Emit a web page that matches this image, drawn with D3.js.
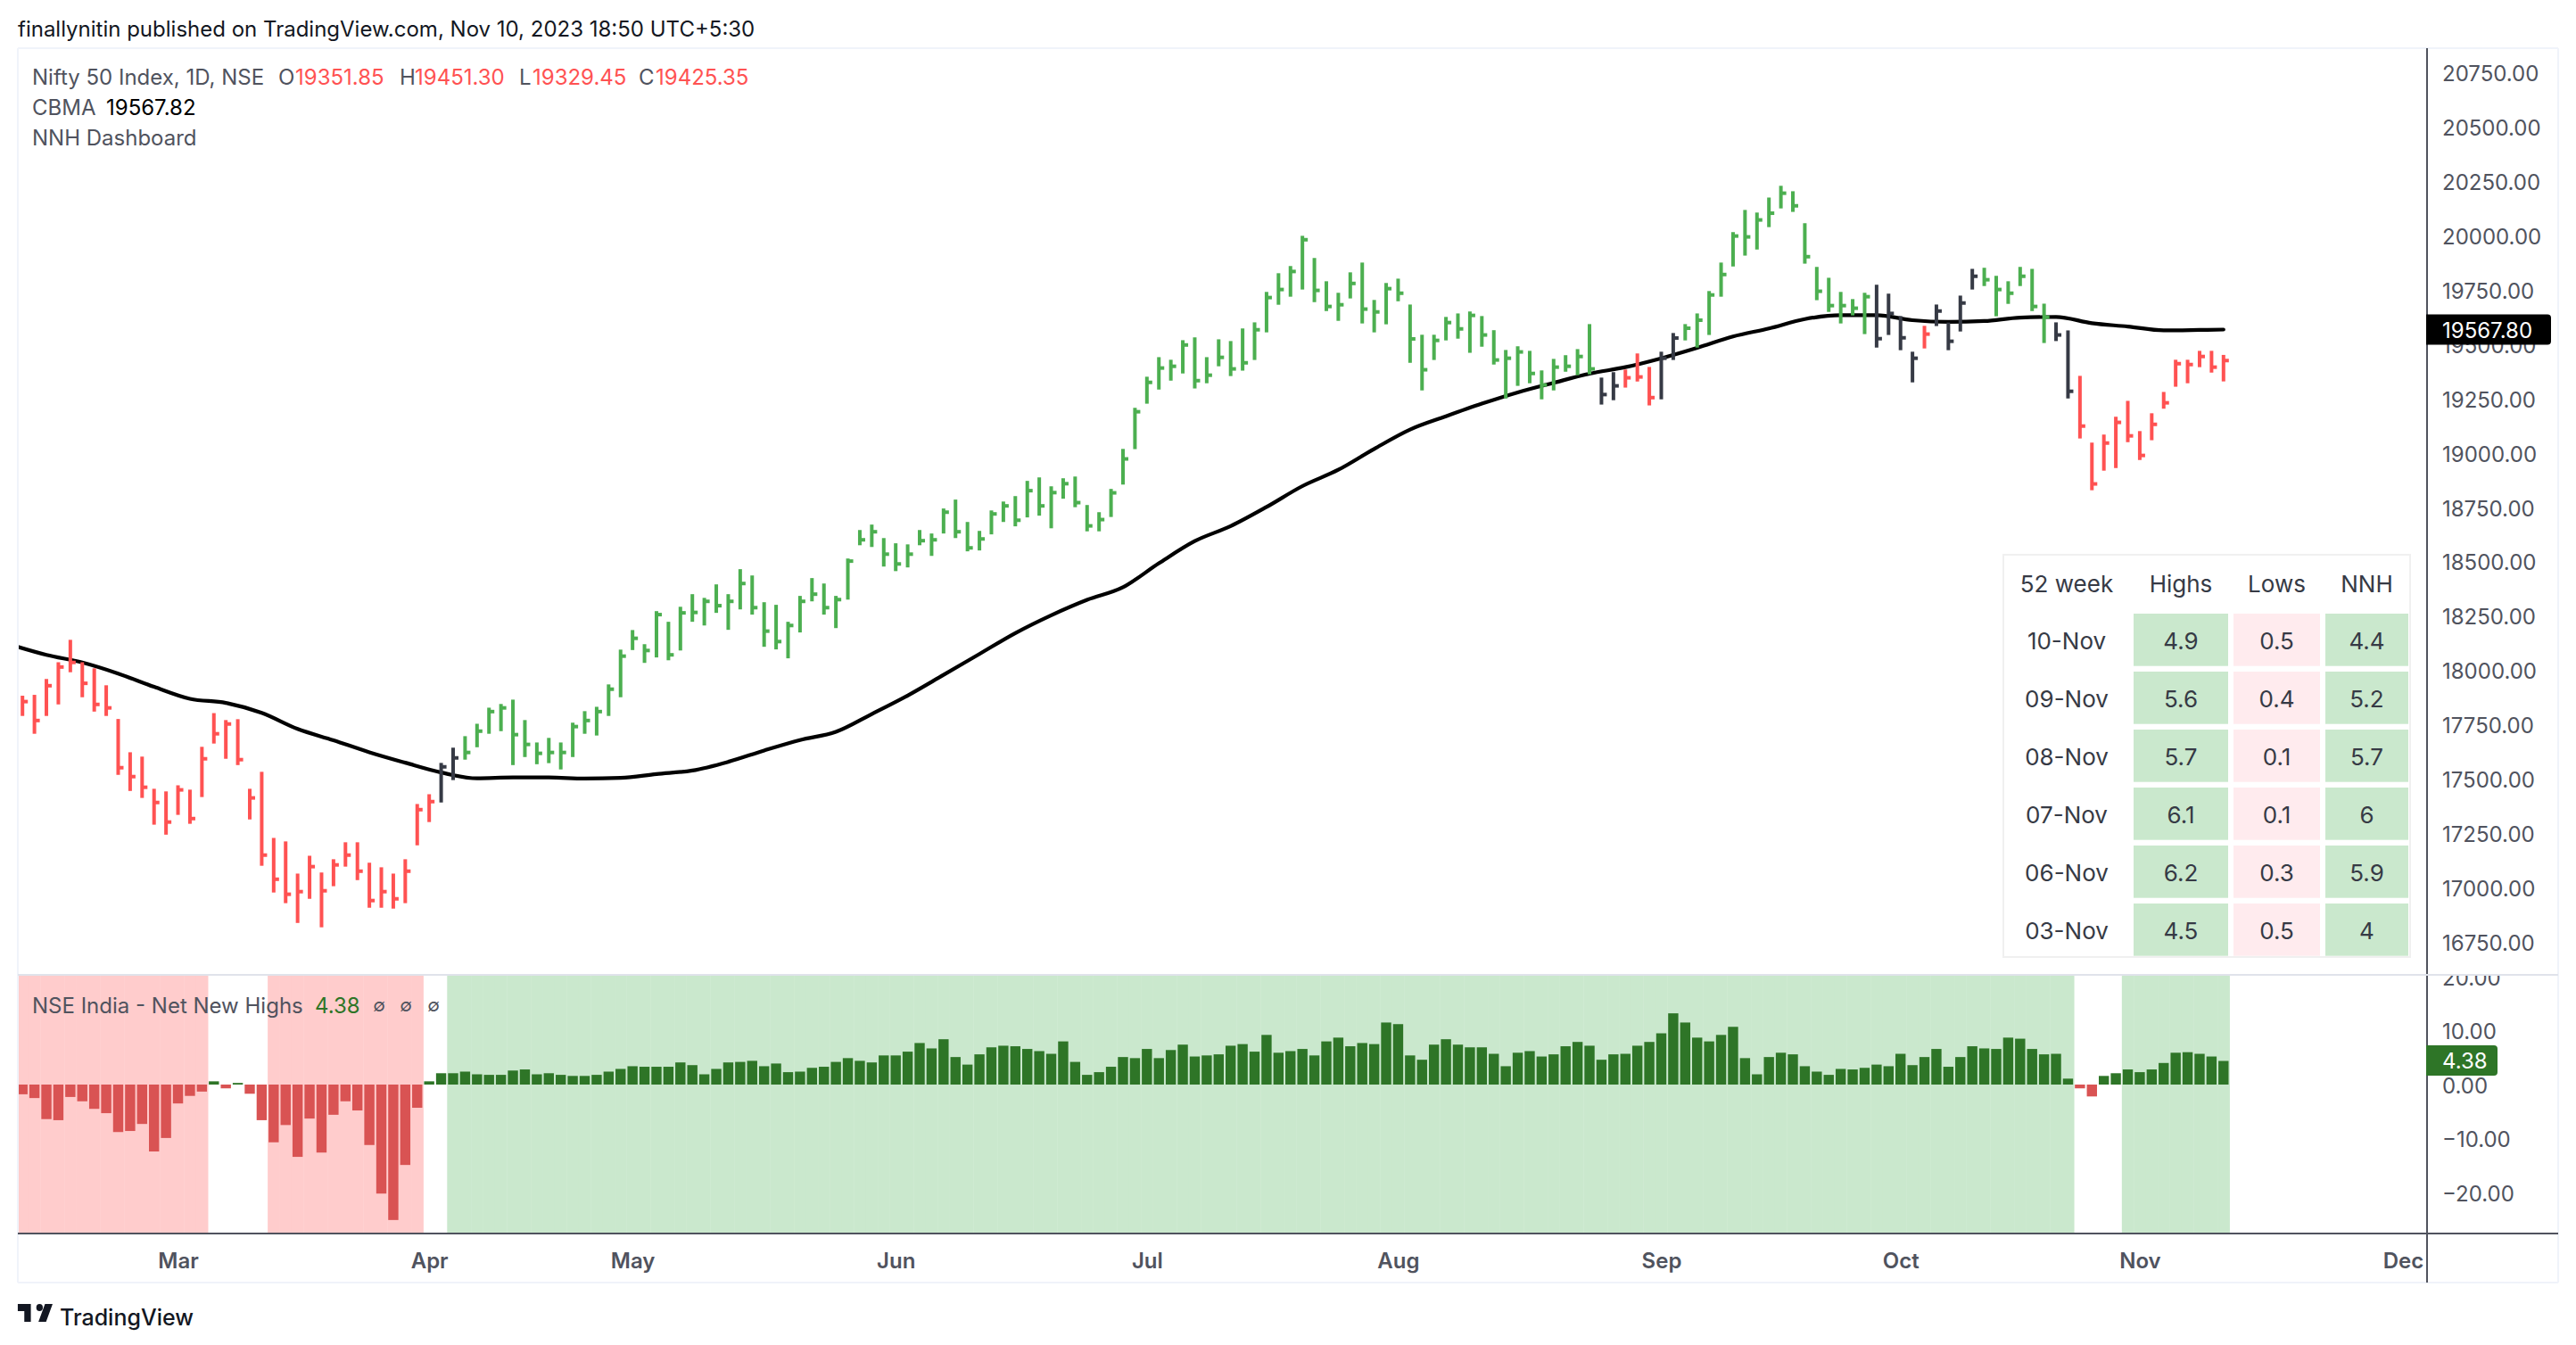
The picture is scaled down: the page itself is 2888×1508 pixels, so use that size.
<!DOCTYPE html>
<html>
<head>
<meta charset="utf-8">
<title>Nifty 50 Index - Net New Highs</title>
<script src="https://cdn.jsdelivr.net/npm/d3@7"></script>
<style>
  html, body { margin: 0; padding: 0; background: #fff; }
  svg { display: block; }
  text { font-family: Inter, "Noto Sans", sans-serif; }
</style>
</head>
<body>
<svg id="chart" width="2888" height="1508"></svg>
<script>
// daily bars, one entry per session
const highs = [17884,17888,17961,18038,18141,18038,18010,17932,17777,17624,17604,17456,17444,17472,17452,17649,17804,17772,17776,17456,17534,17230,17214,17066,17148,17071,17132,17210,17210,17116,17095,17066,17132,17386,17431,17575,17645,17698,17755,17829,17846,17866,17772,17669,17690,17669,17760,17813,17833,17936,18096,18186,
  18121,18273,18224,18293,18351,18334,18396,18351,18466,18437,18314,18302,18224,18343,18425,18400,18343,18515,18646,18671,18609,18585,18580,18646,18630,18745,18786,18683,18642,18736,18777,18802,18872,18888,18847,18884,
  18892,18761,18728,18835,19019,19208,19351,19441,19429,19519,19532,19441,19523,19515,19573,19601,19741,19827,19860,19999,19897,19790,19737,19831,19876,19704,19782,19802,19683,19544,19544,19626,19642,19651,19630,19565,19474,19491,19470,19380,19433,19450,19478,19593,19347,19372,
  19384,19458,19396,19466,19552,19593,19642,19745,19876,20016,20118,20106,20175,20229,20204,20057,19856,19806,19741,19708,19737,19774,19733,19630,19466,19585,19683,19600,19724,19847,19852,19815,19790,19856,19847,19687,19601,19564,19355,19048,19085,19167,19240,19101,19183,19281,19429,19429,19470,19470,19451.3];
const lows = [17791,17709,17791,17844,17992,17877,17811,17791,17520,17446,17414,17291,17245,17336,17295,17418,17664,17594,17565,17315,17102,16979,16930,16839,16950,16819,17008,17098,17036,16909,16909,16905,16930,17196,17303,17393,17496,17590,17647,17709,17721,17565,17602,17569,17574,17545,17602,17709,17701,17791,17877,18094,
  18035,18060,18047,18092,18224,18207,18265,18187,18281,18257,18109,18097,18056,18175,18318,18257,18195,18326,18576,18568,18478,18457,18474,18576,18527,18630,18609,18548,18552,18626,18683,18663,18704,18712,18654,18790,
  18751,18640,18640,18706,18855,19018,19227,19292,19333,19366,19297,19321,19399,19354,19379,19428,19555,19682,19719,19752,19694,19653,19608,19711,19596,19555,19592,19698,19415,19288,19428,19518,19526,19461,19489,19407,19251,19309,19321,19247,19288,19374,19358,19362,19223,19243,
  19301,19329,19219,19247,19428,19518,19485,19543,19719,19858,19908,19936,20039,20125,20109,19871,19703,19649,19596,19633,19547,19485,19543,19473,19325,19481,19584,19473,19559,19752,19768,19629,19686,19768,19653,19506,19515,19251,19067,18829,18919,18931,19050,18968,19059,19204,19305,19321,19395,19370,19329.45];
const closes = [17857,17770,17930,18016,18037,17941,17844,17828,17553,17512,17463,17393,17303,17451,17319,17594,17709,17754,17590,17414,17151,17040,16971,16983,17098,16987,17106,17151,17077,16942,16983,16950,17077,17360,17397,17557,17598,17623,17721,17811,17828,17705,17660,17619,17623,17623,17742,17770,17811,17914,18066,18148,
  18092,18257,18072,18265,18267,18318,18298,18318,18400,18289,18181,18133,18207,18318,18351,18289,18326,18503,18601,18638,18535,18490,18535,18597,18601,18728,18638,18564,18605,18720,18757,18691,18827,18757,18818,18859,
  18772,18665,18694,18817,18973,19190,19325,19391,19399,19497,19333,19358,19440,19387,19415,19567,19715,19752,19835,19981,19748,19674,19682,19780,19662,19649,19756,19735,19525,19383,19518,19600,19571,19633,19543,19428,19436,19465,19366,19313,19395,19399,19444,19387,19269,19309,
  19346,19350,19255,19436,19529,19574,19611,19727,19821,19998,19994,20072,20103,20195,20137,19903,19744,19678,19678,19666,19719,19526,19642,19530,19436,19547,19653,19514,19690,19813,19797,19752,19735,19813,19674,19625,19543,19284,19124,18858,19046,19141,19079,18989,19132,19231,19411,19407,19444,19395,19425.35];
// bar colour state, as [sessions, state] runs
const barRuns = [[35,'down'],[2,'flat'],[95,'up'],[2,'flat'],[3,'down'],[2,'flat'],[16,'up'],[4,'flat'],[1,'down'],[4,'flat'],[6,'up'],[2,'flat'],[13,'down']];

// CBMA line, read every third session
const maSessions = d3.range(-1, 183, 3).concat([184]);
const maValues = [18119,18072,18037,17986,17925,17870,17851,17805,17731,17679,17624,17576,17531,17504,17508,17508,17503,17506,17524,17540,17580,17632,17680,17718,17800,17885,17980,18076,18172,18254,18325,18383,18493,18595,18664,18752,18848,18923,19019,19108,19169,19227,19279,19323,19365,19395,19436,19484,19536,19573,19616,19634,19634,19611,19603,19607,19623,19626,19597,19582,19564,19566,19567.8];

// net new highs histogram
const nnh = [-1.8,-2.5,-6.4,-6.6,-2.3,-3.1,-4.5,-5.3,-8.8,-8.6,-7.3,-12.4,-9.9,-3.5,-2.1,-1.3,0.6,-0.7,0.3,-1.7,-6.6,-10.7,-7.5,-13.4,-6.3,-12.6,-5.6,-3.1,-4.8,-11.2,-20.2,-25.1,-14.9,-4.3,0.6,2.1,2.1,2.4,1.9,1.8,1.8,2.6,2.8,1.9,2.1,1.8,1.6,1.6,1.8,2.4,2.9,3.4,3.3,3.3,3.3,4.1,3.6,1.9,2.9,4.1,4.2,4.4,3.4,3.9,2.3,2.4,3.1,3.3,4.2,4.9,4.4,4.1,5.4,5.4,
  6.1,7.7,6.7,8.4,5.1,3.7,5.6,6.9,7.2,7.1,6.6,6.2,5.7,8.0,4.2,1.8,2.3,3.3,5.1,4.9,6.6,4.9,6.4,7.4,5.2,5.4,5.6,7.2,7.5,6.1,9.2,5.9,6.2,6.6,5.4,8.0,8.7,7.1,7.7,7.5,11.5,11.2,5.4,4.6,7.4,8.4,7.4,6.9,6.9,5.7,3.4,5.9,6.2,5.2,5.6,7.1,7.9,7.2,4.6,5.6,5.7,7.2,7.9,9.5,13.2,11.5,8.7,8.0,9.2,10.7,4.9,1.9,5.1,5.9,
  5.6,3.4,2.4,1.8,2.9,2.8,3.1,3.7,3.4,5.7,3.6,5.1,6.6,3.3,5.1,7.1,6.7,6.6,8.7,8.5,6.6,5.6,5.7,1.1,-0.7,-2.2,1.6,2.1,2.8,2.3,2.8,4.0,5.9,6.0,5.7,5.2,4.38];
// shaded zones behind the histogram, as [sessions, zone] runs
const zoneRuns = [[16,'weak'],[5,'none'],[13,'weak'],[2,'none'],[136,'strong'],[4,'none'],[9,'strong']];

// axis ticks
const priceTicks = d3.range(16750, 20751, 250);
const nnhTicks = [-20, -10, 0, 10, 20];
const monthSessions = [13, 34, 51, 73, 94, 115, 137, 157, 177, 199];
const monthLabels = ['Mar', 'Apr', 'May', 'Jun', 'Jul', 'Aug', 'Sep', 'Oct', 'Nov', 'Dec'];

// dashboard table
const tableDates = ['10-Nov', '09-Nov', '08-Nov', '07-Nov', '06-Nov', '03-Nov'];
const tableHighs = ['4.9', '5.6', '5.7', '6.1', '6.2', '4.5'];
const tableLows = ['0.5', '0.4', '0.1', '0.1', '0.3', '0.5'];
const tableNnh = ['4.4', '5.2', '5.7', '6', '5.9', '4'];

// - - - - layout - - - -
const PaneLeft = 20, AxisX = 2721, FrameRight = 2868;
const FrameTop = 54, SplitY = 1093, TimeY = 1383, FrameBottom = 1438;
const barColors = {up: '#4caf50', down: '#ff5252', flat: '#363a45'};
const zoneColors = {weak: '#ffcccc', strong: '#cae8cd'};
const HistGreen = '#2e7527', HistRed = '#d95353';
const TextGrey = '#50535e', TextDark = '#131722';
const LabelDy = '.38em';

const svg = d3.select('#chart');
const x = d3.scaleLinear().domain([0, 184]).range([25.2, 2492.8]);
const step = x(1) - x(0);
const yPrice = d3.scaleLinear().domain([16750, 20750]).range([1056.5, 81.3]);
const yNnh = d3.scaleLinear().domain([-20, 20]).range([1337, 1095]);

// expand [count, state] runs to one state per session
function expandRuns(runs){
    return runs.flatMap(r => d3.range(r[0]).map(() => r[1]));
}

function addText(g, str, px, py, opt){
    opt = opt || {};
    return g.append('text')
        .attr('x', px).attr('y', py)
        .attr('dy', opt.dy || '.42em')
        .attr('text-anchor', opt.anchor || 'start')
        .attr('font-size', opt.size || 24)
        .attr('font-weight', opt.weight || 400)
        .attr('fill', opt.fill || TextGrey)
        .text(str);
}

svg.append('clipPath').attr('id', 'priceClip').append('rect')
    .attr('x', PaneLeft).attr('y', FrameTop).attr('width', AxisX - PaneLeft).attr('height', SplitY - FrameTop);
svg.append('clipPath').attr('id', 'nnhClip').append('rect')
    .attr('x', PaneLeft).attr('y', SplitY).attr('width', AxisX - PaneLeft).attr('height', TimeY - SplitY);
svg.append('clipPath').attr('id', 'nnhAxisClip').append('rect')
    .attr('x', AxisX).attr('y', SplitY).attr('width', FrameRight - AxisX).attr('height', TimeY - SplitY);

// price pane
const pricePane = svg.append('g').attr('clip-path', 'url(#priceClip)');
const maLine = d3.line()
    .x((d, i) => x(maSessions[i]))
    .y(d => yPrice(d))
    .curve(d3.curveMonotoneX);
pricePane.append('path')
    .attr('d', maLine(maValues))
    .attr('fill', 'none')
    .attr('stroke', '#000')
    .attr('stroke-width', 4.2)
    .attr('stroke-linecap', 'round');

const barStates = expandRuns(barRuns);
const bars = pricePane.selectAll('g.bar').data(highs).join('g').attr('class', 'bar')
    .attr('fill', (d, i) => barColors[barStates[i]]);
bars.append('rect')
    .attr('x', (d, i) => x(i) - 2)
    .attr('width', 4)
    .attr('y', d => yPrice(d))
    .attr('height', (d, i) => yPrice(lows[i]) - yPrice(d));
bars.append('rect')
    .attr('x', (d, i) => x(i))
    .attr('width', 6)
    .attr('y', (d, i) => yPrice(closes[i]) - 2)
    .attr('height', 4);

// net new highs pane
const nnhPane = svg.append('g').attr('clip-path', 'url(#nnhClip)');
const zoneStates = expandRuns(zoneRuns);
nnhPane.selectAll('rect.zone').data(zoneStates.map((z, i) => ({z: z, i: i})).filter(d => d.z !== 'none'))
    .join('rect').attr('class', 'zone')
    .attr('x', d => x(d.i) - step / 2)
    .attr('width', step + 0.4)
    .attr('y', SplitY)
    .attr('height', TimeY - SplitY)
    .attr('fill', d => zoneColors[d.z]);
nnhPane.selectAll('rect.hist').data(nnh).join('rect').attr('class', 'hist')
    .attr('x', (d, i) => x(i) - 5.7)
    .attr('width', 11.4)
    .attr('y', d => Math.min(yNnh(d), yNnh(0)))
    .attr('height', d => Math.abs(yNnh(d) - yNnh(0)))
    .attr('fill', d => d >= 0 ? HistGreen : HistRed);

// axes
const priceAxis = d3.axisRight(yPrice).tickValues(priceTicks).tickFormat(d3.format('.2f')).tickSize(0).tickPadding(0);
svg.append('g').attr('class', 'axis').attr('transform', 'translate(2738,0)').call(priceAxis);
const nnhAxis = d3.axisRight(yNnh).tickValues(nnhTicks).tickFormat(d3.format('.2f')).tickSize(0).tickPadding(0);
svg.append('g').attr('clip-path', 'url(#nnhAxisClip)')
    .append('g').attr('class', 'axis').attr('transform', 'translate(2738,0)').call(nnhAxis);
const timeAxis = d3.axisBottom(x).tickValues(monthSessions)
    .tickFormat((d, i) => monthLabels[i]).tickSize(0).tickPadding(0);
svg.append('g').attr('class', 'axis time').attr('transform', 'translate(0,1413)').call(timeAxis);
svg.selectAll('.axis .domain').remove();
svg.selectAll('.axis text').attr('font-family', 'Inter, "Noto Sans", sans-serif').attr('font-size', 24).attr('fill', TextGrey).attr('dy', LabelDy);
svg.selectAll('.time text').attr('y', 0).attr('font-weight', 600);

// frame
const frame = svg.append('g');
function frameLine(x1, y1, x2, y2, color){
    frame.append('line').attr('x1', x1).attr('y1', y1).attr('x2', x2).attr('y2', y2)
        .attr('stroke', color).attr('stroke-width', 2);
}
frameLine(PaneLeft, FrameTop, FrameRight, FrameTop, '#f0f3fa');
frameLine(PaneLeft, FrameTop, PaneLeft, FrameBottom, '#f0f3fa');
frameLine(FrameRight, FrameTop, FrameRight, FrameBottom, '#f0f3fa');
frameLine(PaneLeft, FrameBottom, FrameRight, FrameBottom, '#f0f3fa');
frameLine(AxisX, FrameTop, AxisX, FrameBottom, TextGrey);
frameLine(PaneLeft, TimeY, FrameRight, TimeY, TextGrey);
frameLine(PaneLeft, SplitY, FrameRight, SplitY, '#e0e3eb');

// last value labels
function lastLabel(yPos, x2, color, str){
    const h = 34, r = 4, x1 = AxisX - 1, top = yPos - h / 2;
    svg.append('path')
        .attr('d', `M${x1},${top}H${x2 - r}Q${x2},${top} ${x2},${top + r}V${top + h - r}Q${x2},${top + h} ${x2 - r},${top + h}H${x1}Z`)
        .attr('fill', color);
    addText(svg, str, 2738, yPos, {fill: '#fff', dy: LabelDy});
}
lastLabel(yPrice(maValues[maValues.length - 1]), 2860, '#000', '19567.80');
lastLabel(1189, 2800, HistGreen, '4.38');

// legends
addText(svg, 'finallynitin published on TradingView.com, Nov 10, 2023 18:50 UTC+5:30', 20, 31, {fill: TextDark});
addText(svg, 'Nifty 50 Index, 1D, NSE', 36, 85);
[['O', 312, '19351.85', 331], ['H', 448, '19451.30', 465], ['L', 582, '19329.45', 597], ['C', 716, '19425.35', 735]].forEach(o => {
    addText(svg, o[0], o[1], 85);
    addText(svg, o[2], o[3], 85, {fill: '#ff5252'});
});
addText(svg, 'CBMA', 36, 119);
addText(svg, '19567.82', 119, 119, {fill: '#000'});
addText(svg, 'NNH Dashboard', 36, 153);
addText(svg, 'NSE India - Net New Highs', 36, 1126);
addText(svg, '4.38', 353, 1126, {fill: HistGreen});
[425, 455, 486].forEach(px => addText(svg, '\u2205', px, 1126, {anchor: 'middle', size: 20}));

// dashboard table
const table = svg.append('g');
table.append('rect')
    .attr('x', 2246).attr('y', 622).attr('width', 456).attr('height', 451)
    .attr('fill', '#fff').attr('stroke', '#f0f0f0').attr('stroke-width', 2);
const tableColumns = [
    {title: 'Highs', x: 2392, w: 106, values: tableHighs, fill: '#cae8cd'},
    {title: 'Lows', x: 2504, w: 97, values: tableLows, fill: '#ffebee'},
    {title: 'NNH', x: 2607, w: 93, values: tableNnh, fill: '#cae8cd'}
];
const rowY = d3.scaleBand().domain(tableDates).range([688, 1071.7]).paddingInner(0.097);
const TableText = '#363a45';
addText(table, '52 week', 2317, 653, {anchor: 'middle', size: 26, fill: TableText});
tableDates.forEach(d => addText(table, d, 2317, rowY(d) + rowY.bandwidth() / 2, {anchor: 'middle', size: 26, fill: TableText}));
tableColumns.forEach(c => {
    addText(table, c.title, c.x + c.w / 2, 653, {anchor: 'middle', size: 26, fill: TableText});
    c.values.forEach((v, i) => {
        table.append('rect')
            .attr('x', c.x).attr('y', rowY(tableDates[i]))
            .attr('width', c.w).attr('height', rowY.bandwidth())
            .attr('fill', c.fill);
        addText(table, v, c.x + c.w / 2, rowY(tableDates[i]) + rowY.bandwidth() / 2, {anchor: 'middle', size: 26, fill: TableText});
    });
});

// logo
svg.append('path')
    .attr('d', 'M14 6H2v6h6v9h6V6zm14 15h-7l6-15h7l-6 15zm-6-15a3 3 0 1 1 0 6 3 3 0 0 1 0-6z')
    .attr('transform', 'translate(17.5,1454) scale(1.22,1.33)')
    .attr('fill', TextDark);
addText(svg, 'TradingView', 67, 1475, {size: 25, weight: 500, fill: TextDark});
</script>
</body>
</html>
